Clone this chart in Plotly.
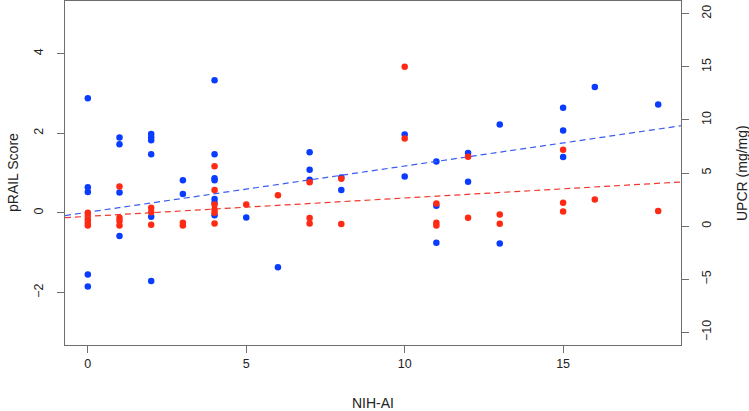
import plotly.graph_objects as go

# NIH-AI (x) and pRAIL score (left axis, blue)
prail_x = [0, 0, 0, 0, 0,
           1, 1, 1, 1,
           2, 2, 2, 2, 2, 2,
           3, 3,
           4, 4, 4, 4, 4, 4, 4,
           5, 6,
           7, 7, 7,
           8, 8,
           10, 10,
           11, 11, 11,
           12, 12,
           13, 13,
           15, 15, 15,
           16, 18]
prail_y = [2.88, 0.64, 0.52, -1.55, -1.85,
           1.89, 1.72, 0.51, -0.58,
           1.98, 1.90, 1.82, 1.47, -0.10, -1.71,
           0.82, 0.47,
           3.33, 1.47, 0.87, 0.82, 0.35, 0.25, -0.06,
           -0.12, -1.37,
           1.52, 1.08, 0.83,
           0.89, 0.57,
           1.97, 0.91,
           1.29, 0.18, -0.75,
           1.50, 0.78,
           2.22, -0.77,
           2.64, 2.07, 1.40,
           3.16, 2.72]

# NIH-AI (x) and UPCR (right axis, red)
upcr_x = [0, 0, 0, 0, 0,
          1, 1, 1, 1,
          2, 2, 2,
          3, 3,
          4, 4, 4, 4, 4, 4,
          5, 6,
          7, 7, 7,
          8, 8,
          10, 10,
          11, 11, 11,
          12, 12,
          13, 13,
          15, 15, 15,
          16, 18]
upcr_y = [1.25, 0.94, 0.63, 0.31, 0.06,
          3.72, 0.78, 0.47, 0.06,
          1.72, 1.31, 0.13,
          0.31, 0.06,
          5.63, 3.41, 2.03, 1.56, 1.25, 0.25,
          2.03, 2.91,
          4.13, 0.75, 0.25,
          4.47, 0.19,
          15.0, 8.25,
          2.13, 0.31, 0.06,
          6.53, 0.78,
          1.09, 0.22,
          7.19, 2.19, 1.38,
          2.50, 1.41]

# fitted trend lines (intercept, slope)
prail_fit = [0.015, 0.116]
upcr_fit = [0.915, 0.173]

x_ticks = [0, 5, 10, 15]
left_ticks = [-2, 0, 2, 4]
right_ticks = [-10, -5, 0, 5, 10, 15, 20]

x_range = [-0.72, 18.72]
left_range = [-3.32, 5.32]
right_range = [-11.2, 21.2]

BLUE = "#0a3cff"
RED = "#ff2a14"
FRAME = "#6e6e6e"
TXT = "#222222"
FONT = "Liberation Sans, Arial, sans-serif"

fig = go.Figure()

fig.add_trace(go.Scatter(
    x=prail_x, y=prail_y, mode="markers", yaxis="y",
    marker=dict(color=BLUE, size=6.5, line=dict(width=0)),
    showlegend=False))

fig.add_trace(go.Scatter(
    x=upcr_x, y=upcr_y, mode="markers", yaxis="y2",
    marker=dict(color=RED, size=6.5, line=dict(width=0)),
    showlegend=False))

fig.add_trace(go.Scatter(
    x=x_range, y=[prail_fit[0] + prail_fit[1] * v for v in x_range],
    mode="lines", yaxis="y",
    line=dict(color="#3a5cf0", width=1.2, dash="6px,4px"),
    showlegend=False))

fig.add_trace(go.Scatter(
    x=x_range, y=[upcr_fit[0] + upcr_fit[1] * v for v in x_range],
    mode="lines", yaxis="y2",
    line=dict(color="#f03a2e", width=1.2, dash="6px,4px"),
    showlegend=False))

axis_common = dict(showgrid=False, zeroline=False, showline=True,
                   linecolor=FRAME, linewidth=1.2, ticks="outside",
                   ticklen=7, tickcolor=FRAME, tickwidth=1,
                   tickfont=dict(size=12.5, color=TXT, family=FONT))

fig.update_layout(
    width=749, height=411,
    margin=dict(l=65, r=68, t=1, b=66),
    paper_bgcolor="white", plot_bgcolor="white",
    font=dict(family=FONT, color=TXT),
    xaxis=dict(range=x_range, tickvals=x_ticks, mirror=True, **axis_common),
    yaxis=dict(range=left_range, tickvals=left_ticks, mirror=True,
               tickangle=-90, ticklabelstandoff=9, **axis_common),
    yaxis2=dict(range=right_range, tickvals=right_ticks, overlaying="y",
                side="right", tickangle=-90, ticklabelstandoff=7,
                **axis_common),
    annotations=[
        dict(text="NIH-AI", xref="paper", yref="paper", x=0.5, y=0,
             xanchor="center", yanchor="middle",
             yshift=-58, showarrow=False, font=dict(size=14, color=TXT)),
        dict(text="pRAIL Score", xref="paper", yref="paper", x=0, y=0.5,
             xanchor="center", yanchor="middle",
             xshift=-52, textangle=-90, showarrow=False,
             font=dict(size=14, color=TXT)),
        dict(text="UPCR (mg/mg)", xref="paper", yref="paper", x=1, y=0.5,
             xanchor="center", yanchor="middle",
             xshift=61, textangle=-90, showarrow=False,
             font=dict(size=14, color=TXT)),
    ],
)

fig.write_html("out.html",
               config={"displayModeBar": False},
               post_script="document.body.style.margin='0px';"
                           "document.body.style.overflow='hidden';")
